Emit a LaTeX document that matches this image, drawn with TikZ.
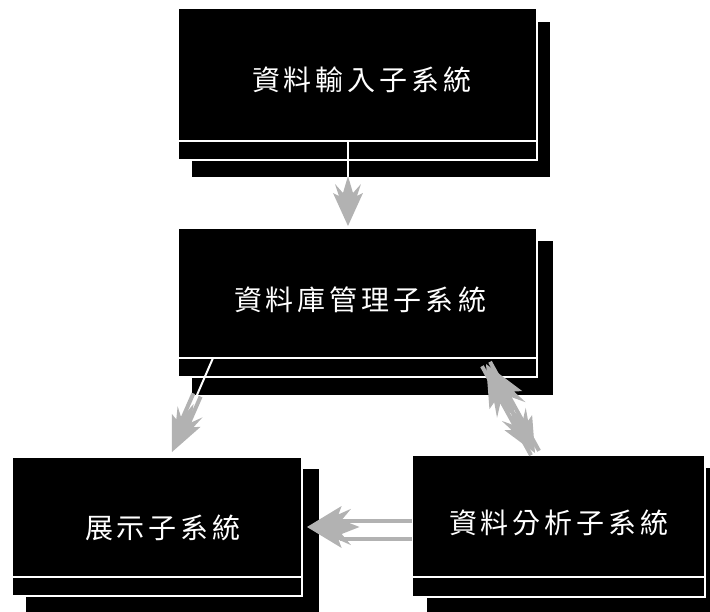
\documentclass[tikz,border=0pt]{standalone}
\usepackage{fontspec}
\newfontfamily\cjk{Noto Sans CJK TC}
\usetikzlibrary{calc}
\newcommand\cg{\hspace{4pt}}
\tikzset{
  layer/.style={rectangle, fill=black, draw=white, line width=1.2pt, inner sep=0pt, outer sep=0pt},
  backbox/.style={rectangle, fill=black, draw=none, inner sep=0pt, outer sep=0pt},
  lbl/.style={text=white, font=\cjk\fontsize{28}{28}\selectfont, inner sep=0pt},
  shaft/.style={draw=gray!60, line width=4pt},
  wline/.style={draw=white, line width=2pt},
  fhead/.pic={\fill[gray!60] (0pt,0pt) -- (-33pt,15pt) -- (-30pt,9pt) -- (-42pt,13pt) -- (-33pt,5pt)
     -- (-50pt,0pt) -- (-33pt,-5pt) -- (-42pt,-13pt) -- (-30pt,-9pt) -- (-33pt,-15pt) -- cycle;}
}
\begin{document}
\begin{tikzpicture}[x=1pt,y=-1pt]
\useasboundingbox (0,0) rectangle (710,612);
% box 1
\node[backbox, minimum width=358pt, minimum height=155pt] (b1s) at (371,99.5) {};
\node[layer, minimum width=359pt, minimum height=152pt] (b1m) at (357.5,84) {};
\node[layer, minimum width=359pt, minimum height=133pt] (b1) at (357.5,74.5) {};
\node[lbl] (t1) at (362,80) {資\cg 料\cg 輸\cg 入\cg 子\cg 系\cg 統};
% box 2
\node[backbox, minimum width=361pt, minimum height=154pt] (b2s) at (372.5,318) {};
\node[layer, minimum width=359pt, minimum height=149pt] (b2m) at (357.5,302.5) {};
\node[layer, minimum width=359pt, minimum height=130pt] (b2) at (357.5,293) {};
\node[lbl] (t2) at (360,300) {資\cg 料\cg 庫\cg 管\cg 理\cg 子\cg 系\cg 統};
% box 3
\node[backbox, minimum width=293pt, minimum height=145pt] (b3s) at (172.5,541.5) {};
\node[layer, minimum width=290pt, minimum height=139pt] (b3m) at (157,526.5) {};
\node[layer, minimum width=290pt, minimum height=120pt] (b3) at (157,517) {};
\node[lbl] (t3) at (163,528) {展\cg 示\cg 子\cg 系\cg 統};
% box 4
\node[backbox, minimum width=289pt, minimum height=146pt] (b4s) at (571.5,541) {};
\node[layer, minimum width=293pt, minimum height=142pt] (b4m) at (558.5,526) {};
\node[layer, minimum width=293pt, minimum height=122pt] (b4) at (558.5,516) {};
\node[lbl] (t4) at (559,523) {資\cg 料\cg 分\cg 析\cg 子\cg 系\cg 統};
% arrow 1: b1 -> b2
\coordinate (a1s) at ($(b1.south west)!0.4735!(b1.south east)$);
\coordinate (a1m) at (a1s |- b1s.south);
\coordinate (a1t) at ($(a1s |- b2.north)+(0,-2)$);
\draw[wline] (a1s) -- (a1m);
\pic[rotate=-90] at (a1t) {fhead};
% arrow 2: b2 -> b3
\coordinate (a2s) at ($(b2.south west)!0.0975!(b2.south east)$);
\coordinate (a2m) at (197,395);
\coordinate (a2t) at (172,452);
\coordinate (a2e) at ($(a2t)!28pt!(a2m)$);
\draw[wline] (a2s) -- (a2m);
\draw[shaft] ([shift={(3.6,1.6)}]a2m) -- ([shift={(3.6,1.6)}]a2e);
\draw[shaft] ([shift={(-3.6,-1.6)}]a2m) -- ([shift={(-3.6,-1.6)}]a2e);
\pic[rotate=-114.2, scale=1.05] at (a2t) {fhead};
% arrow 3: b2 <-> b4
\coordinate (a3u) at (486,364);
\coordinate (a3d) at (535,453);
\draw[shaft] ([shift={(4,-2.2)}]a3u) -- ([shift={(4,-2.2)}]a3d);
\draw[shaft] ([shift={(-4,2.2)}]a3u) -- ([shift={(-4,2.2)}]a3d);
\pic[rotate=118.8, scale=1.25] at (a3u) {fhead};
\pic[rotate=-61.2, scale=1.05] at (a3d) {fhead};
% arrow 4: b4 -> b3
\coordinate (a4t) at (307,527);
\coordinate (a4a) at (b4.west |- 0,521);
\coordinate (a4b) at (340,521);
\coordinate (a4c) at (b4.west |- 0,539);
\coordinate (a4d) at (340,539);
\draw[shaft] (a4a) -- (a4b);
\draw[shaft] (a4c) -- (a4d);
\pic[rotate=180, yscale=1.4, xscale=1.05] at (a4t) {fhead};
\end{tikzpicture}
\end{document}
